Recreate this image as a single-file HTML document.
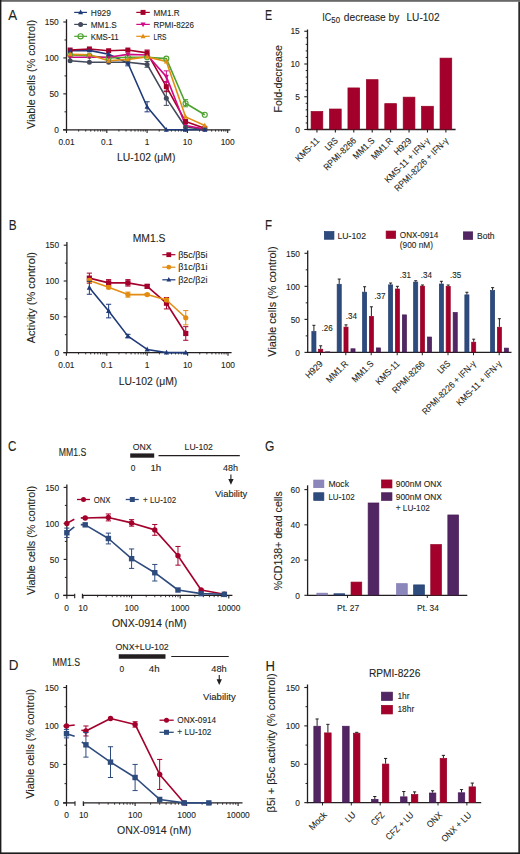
<!DOCTYPE html>
<html><head><meta charset="utf-8"><style>
html,body{margin:0;padding:0;background:#fff;width:520px;height:854px;overflow:hidden}
svg{display:block;font-family:"Liberation Sans", sans-serif}
text{stroke:#231f20;stroke-width:0.1px}
</style></head><body>
<svg width="520" height="854" viewBox="0 0 520 854" font-family='"Liberation Sans", sans-serif' fill="#231f20">
<rect x="0" y="0" width="520" height="854" fill="#fff"/>
<text x="8.30" y="19.60" font-size="14.21" textLength="8.87" lengthAdjust="spacingAndGlyphs" >A</text>
<line x1="66.50" y1="19.30" x2="66.50" y2="130.40" stroke="#231f20" stroke-width="1.3" />
<line x1="63.30" y1="129.80" x2="66.50" y2="129.80" stroke="#231f20" stroke-width="1.1" />
<text x="58.80" y="133.00" font-size="8.92" text-anchor="end" textLength="4.67" lengthAdjust="spacingAndGlyphs" >0</text>
<line x1="63.30" y1="93.87" x2="66.50" y2="93.87" stroke="#231f20" stroke-width="1.1" />
<text x="58.80" y="97.07" font-size="8.92" text-anchor="end" textLength="9.34" lengthAdjust="spacingAndGlyphs" >50</text>
<line x1="63.30" y1="57.93" x2="66.50" y2="57.93" stroke="#231f20" stroke-width="1.1" />
<text x="58.80" y="61.13" font-size="8.92" text-anchor="end" textLength="14.00" lengthAdjust="spacingAndGlyphs" >100</text>
<line x1="63.30" y1="22.00" x2="66.50" y2="22.00" stroke="#231f20" stroke-width="1.1" />
<text x="58.80" y="25.20" font-size="8.92" text-anchor="end" textLength="14.00" lengthAdjust="spacingAndGlyphs" >150</text>
<line x1="64.50" y1="111.83" x2="66.50" y2="111.83" stroke="#231f20" stroke-width="1.0" />
<line x1="64.50" y1="75.90" x2="66.50" y2="75.90" stroke="#231f20" stroke-width="1.0" />
<line x1="64.50" y1="39.97" x2="66.50" y2="39.97" stroke="#231f20" stroke-width="1.0" />
<line x1="63.00" y1="129.80" x2="230.40" y2="129.80" stroke="#231f20" stroke-width="1.3" />
<line x1="66.50" y1="129.80" x2="66.50" y2="133.00" stroke="#231f20" stroke-width="1.1" />
<line x1="78.63" y1="129.80" x2="78.63" y2="131.60" stroke="#231f20" stroke-width="0.9" />
<line x1="85.73" y1="129.80" x2="85.73" y2="131.60" stroke="#231f20" stroke-width="0.9" />
<line x1="90.76" y1="129.80" x2="90.76" y2="131.60" stroke="#231f20" stroke-width="0.9" />
<line x1="94.67" y1="129.80" x2="94.67" y2="131.60" stroke="#231f20" stroke-width="0.9" />
<line x1="97.86" y1="129.80" x2="97.86" y2="131.60" stroke="#231f20" stroke-width="0.9" />
<line x1="100.56" y1="129.80" x2="100.56" y2="131.60" stroke="#231f20" stroke-width="0.9" />
<line x1="102.89" y1="129.80" x2="102.89" y2="131.60" stroke="#231f20" stroke-width="0.9" />
<line x1="104.96" y1="129.80" x2="104.96" y2="131.60" stroke="#231f20" stroke-width="0.9" />
<line x1="106.80" y1="129.80" x2="106.80" y2="133.00" stroke="#231f20" stroke-width="1.1" />
<line x1="118.93" y1="129.80" x2="118.93" y2="131.60" stroke="#231f20" stroke-width="0.9" />
<line x1="126.03" y1="129.80" x2="126.03" y2="131.60" stroke="#231f20" stroke-width="0.9" />
<line x1="131.06" y1="129.80" x2="131.06" y2="131.60" stroke="#231f20" stroke-width="0.9" />
<line x1="134.97" y1="129.80" x2="134.97" y2="131.60" stroke="#231f20" stroke-width="0.9" />
<line x1="138.16" y1="129.80" x2="138.16" y2="131.60" stroke="#231f20" stroke-width="0.9" />
<line x1="140.86" y1="129.80" x2="140.86" y2="131.60" stroke="#231f20" stroke-width="0.9" />
<line x1="143.19" y1="129.80" x2="143.19" y2="131.60" stroke="#231f20" stroke-width="0.9" />
<line x1="145.26" y1="129.80" x2="145.26" y2="131.60" stroke="#231f20" stroke-width="0.9" />
<line x1="147.10" y1="129.80" x2="147.10" y2="133.00" stroke="#231f20" stroke-width="1.1" />
<line x1="159.23" y1="129.80" x2="159.23" y2="131.60" stroke="#231f20" stroke-width="0.9" />
<line x1="166.33" y1="129.80" x2="166.33" y2="131.60" stroke="#231f20" stroke-width="0.9" />
<line x1="171.36" y1="129.80" x2="171.36" y2="131.60" stroke="#231f20" stroke-width="0.9" />
<line x1="175.27" y1="129.80" x2="175.27" y2="131.60" stroke="#231f20" stroke-width="0.9" />
<line x1="178.46" y1="129.80" x2="178.46" y2="131.60" stroke="#231f20" stroke-width="0.9" />
<line x1="181.16" y1="129.80" x2="181.16" y2="131.60" stroke="#231f20" stroke-width="0.9" />
<line x1="183.49" y1="129.80" x2="183.49" y2="131.60" stroke="#231f20" stroke-width="0.9" />
<line x1="185.56" y1="129.80" x2="185.56" y2="131.60" stroke="#231f20" stroke-width="0.9" />
<line x1="187.40" y1="129.80" x2="187.40" y2="133.00" stroke="#231f20" stroke-width="1.1" />
<line x1="199.53" y1="129.80" x2="199.53" y2="131.60" stroke="#231f20" stroke-width="0.9" />
<line x1="206.63" y1="129.80" x2="206.63" y2="131.60" stroke="#231f20" stroke-width="0.9" />
<line x1="211.66" y1="129.80" x2="211.66" y2="131.60" stroke="#231f20" stroke-width="0.9" />
<line x1="215.57" y1="129.80" x2="215.57" y2="131.60" stroke="#231f20" stroke-width="0.9" />
<line x1="218.76" y1="129.80" x2="218.76" y2="131.60" stroke="#231f20" stroke-width="0.9" />
<line x1="221.46" y1="129.80" x2="221.46" y2="131.60" stroke="#231f20" stroke-width="0.9" />
<line x1="223.79" y1="129.80" x2="223.79" y2="131.60" stroke="#231f20" stroke-width="0.9" />
<line x1="225.86" y1="129.80" x2="225.86" y2="131.60" stroke="#231f20" stroke-width="0.9" />
<line x1="227.70" y1="129.80" x2="227.70" y2="133.00" stroke="#231f20" stroke-width="1.1" />
<text x="66.50" y="145.20" font-size="8.92" text-anchor="middle" textLength="16.22" lengthAdjust="spacingAndGlyphs" >0.01</text>
<text x="106.80" y="145.20" font-size="8.92" text-anchor="middle" textLength="11.55" lengthAdjust="spacingAndGlyphs" >0.1</text>
<text x="147.10" y="145.20" font-size="8.92" text-anchor="middle" textLength="4.67" lengthAdjust="spacingAndGlyphs" >1</text>
<text x="187.40" y="145.20" font-size="8.92" text-anchor="middle" textLength="9.34" lengthAdjust="spacingAndGlyphs" >10</text>
<text x="227.70" y="145.20" font-size="8.92" text-anchor="middle" textLength="14.00" lengthAdjust="spacingAndGlyphs" >100</text>
<text x="35.20" y="74.50" font-size="11.37" text-anchor="middle" textLength="109.00" lengthAdjust="spacingAndGlyphs" transform="rotate(-90 35.20 74.50)" >Viable cells (% control)</text>
<text x="146.20" y="160.60" font-size="11.37" text-anchor="middle" textLength="58.50" lengthAdjust="spacingAndGlyphs" >LU-102 (μM)</text>
<line x1="127.85" y1="60.09" x2="127.85" y2="65.84" stroke="#1f3a78" stroke-width="1.0" />
<line x1="125.25" y1="60.09" x2="130.45" y2="60.09" stroke="#1f3a78" stroke-width="1.0" />
<line x1="125.25" y1="65.84" x2="130.45" y2="65.84" stroke="#1f3a78" stroke-width="1.0" />
<line x1="147.10" y1="101.77" x2="147.10" y2="111.83" stroke="#1f3a78" stroke-width="1.0" />
<line x1="144.50" y1="101.77" x2="149.70" y2="101.77" stroke="#1f3a78" stroke-width="1.0" />
<line x1="144.50" y1="111.83" x2="149.70" y2="111.83" stroke="#1f3a78" stroke-width="1.0" />
<polyline points="70.12,50.75 89.40,50.39 108.63,54.34 127.85,62.96 147.10,106.80 166.33,129.80 185.56,129.80 204.78,129.80" fill="none" stroke="#1f3a78" stroke-width="1.6" stroke-linejoin="round"/>
<line x1="147.10" y1="61.53" x2="147.10" y2="67.28" stroke="#434a5c" stroke-width="1.0" />
<line x1="144.50" y1="61.53" x2="149.70" y2="61.53" stroke="#434a5c" stroke-width="1.0" />
<line x1="144.50" y1="67.28" x2="149.70" y2="67.28" stroke="#434a5c" stroke-width="1.0" />
<line x1="166.33" y1="90.99" x2="166.33" y2="105.37" stroke="#434a5c" stroke-width="1.0" />
<line x1="163.73" y1="90.99" x2="168.93" y2="90.99" stroke="#434a5c" stroke-width="1.0" />
<line x1="163.73" y1="105.37" x2="168.93" y2="105.37" stroke="#434a5c" stroke-width="1.0" />
<polyline points="70.12,60.81 89.40,62.25 108.63,62.25 127.85,62.25 147.10,64.40 166.33,98.18 185.56,127.28 204.78,129.08" fill="none" stroke="#434a5c" stroke-width="1.6" stroke-linejoin="round"/>
<line x1="185.56" y1="99.62" x2="185.56" y2="106.80" stroke="#4ea330" stroke-width="1.0" />
<line x1="182.96" y1="99.62" x2="188.16" y2="99.62" stroke="#4ea330" stroke-width="1.0" />
<line x1="182.96" y1="106.80" x2="188.16" y2="106.80" stroke="#4ea330" stroke-width="1.0" />
<polyline points="70.12,55.06 89.40,55.78 108.63,57.93 127.85,57.21 147.10,57.21 166.33,58.65 185.56,103.21 204.78,114.71" fill="none" stroke="#4ea330" stroke-width="1.6" stroke-linejoin="round"/>
<line x1="147.10" y1="50.03" x2="147.10" y2="55.78" stroke="#a3002b" stroke-width="1.0" />
<line x1="144.50" y1="50.03" x2="149.70" y2="50.03" stroke="#a3002b" stroke-width="1.0" />
<line x1="144.50" y1="55.78" x2="149.70" y2="55.78" stroke="#a3002b" stroke-width="1.0" />
<line x1="166.33" y1="81.65" x2="166.33" y2="91.71" stroke="#a3002b" stroke-width="1.0" />
<line x1="163.73" y1="81.65" x2="168.93" y2="81.65" stroke="#a3002b" stroke-width="1.0" />
<line x1="163.73" y1="91.71" x2="168.93" y2="91.71" stroke="#a3002b" stroke-width="1.0" />
<polyline points="70.12,50.03 89.40,48.95 108.63,50.75 127.85,50.03 147.10,52.90 166.33,86.68 185.56,121.54 204.78,128.36" fill="none" stroke="#a3002b" stroke-width="1.6" stroke-linejoin="round"/>
<line x1="166.33" y1="70.87" x2="166.33" y2="82.37" stroke="#cf0a86" stroke-width="1.0" />
<line x1="163.73" y1="70.87" x2="168.93" y2="70.87" stroke="#cf0a86" stroke-width="1.0" />
<line x1="163.73" y1="82.37" x2="168.93" y2="82.37" stroke="#cf0a86" stroke-width="1.0" />
<polyline points="70.12,57.21 89.40,57.21 108.63,57.21 127.85,54.34 147.10,55.06 166.33,76.62 185.56,125.49 204.78,129.08" fill="none" stroke="#cf0a86" stroke-width="1.6" stroke-linejoin="round"/>
<polyline points="70.12,54.34 89.40,54.70 108.63,60.81 127.85,59.37 147.10,56.86 166.33,61.53 185.56,116.86 204.78,125.49" fill="none" stroke="#e38c12" stroke-width="1.6" stroke-linejoin="round"/>
<circle cx="70.12" cy="55.06" r="2.50" fill="none" stroke="#4ea330" stroke-width="1.15"/>
<circle cx="89.40" cy="55.78" r="2.50" fill="none" stroke="#4ea330" stroke-width="1.15"/>
<circle cx="108.63" cy="57.93" r="2.50" fill="none" stroke="#4ea330" stroke-width="1.15"/>
<circle cx="127.85" cy="57.21" r="2.50" fill="none" stroke="#4ea330" stroke-width="1.15"/>
<circle cx="147.10" cy="57.21" r="2.50" fill="none" stroke="#4ea330" stroke-width="1.15"/>
<circle cx="166.33" cy="58.65" r="2.50" fill="none" stroke="#4ea330" stroke-width="1.15"/>
<circle cx="185.56" cy="103.21" r="2.50" fill="none" stroke="#4ea330" stroke-width="1.15"/>
<circle cx="204.78" cy="114.71" r="2.50" fill="none" stroke="#4ea330" stroke-width="1.15"/>
<polygon points="70.12,60.06 67.62,55.31 72.62,55.31" fill="#cf0a86"/>
<polygon points="89.40,60.06 86.90,55.31 91.90,55.31" fill="#cf0a86"/>
<polygon points="108.63,60.06 106.13,55.31 111.13,55.31" fill="#cf0a86"/>
<polygon points="127.85,57.19 125.35,52.44 130.35,52.44" fill="#cf0a86"/>
<polygon points="147.10,57.91 144.60,53.16 149.60,53.16" fill="#cf0a86"/>
<polygon points="166.33,79.47 163.83,74.72 168.83,74.72" fill="#cf0a86"/>
<polygon points="185.56,128.34 183.06,123.59 188.06,123.59" fill="#cf0a86"/>
<polygon points="204.78,131.93 202.28,127.18 207.28,127.18" fill="#cf0a86"/>
<rect x="67.62" y="47.53" width="5.00" height="5.00" fill="#a3002b"/>
<rect x="86.90" y="46.45" width="5.00" height="5.00" fill="#a3002b"/>
<rect x="106.13" y="48.25" width="5.00" height="5.00" fill="#a3002b"/>
<rect x="125.35" y="47.53" width="5.00" height="5.00" fill="#a3002b"/>
<rect x="144.60" y="50.40" width="5.00" height="5.00" fill="#a3002b"/>
<rect x="163.83" y="84.18" width="5.00" height="5.00" fill="#a3002b"/>
<rect x="183.06" y="119.04" width="5.00" height="5.00" fill="#a3002b"/>
<rect x="202.28" y="125.86" width="5.00" height="5.00" fill="#a3002b"/>
<circle cx="70.12" cy="60.81" r="2.50" fill="#434a5c"/>
<circle cx="89.40" cy="62.25" r="2.50" fill="#434a5c"/>
<circle cx="108.63" cy="62.25" r="2.50" fill="#434a5c"/>
<circle cx="127.85" cy="62.25" r="2.50" fill="#434a5c"/>
<circle cx="147.10" cy="64.40" r="2.50" fill="#434a5c"/>
<circle cx="166.33" cy="98.18" r="2.50" fill="#434a5c"/>
<circle cx="185.56" cy="127.28" r="2.50" fill="#434a5c"/>
<circle cx="204.78" cy="129.08" r="2.50" fill="#434a5c"/>
<polygon points="70.12,47.90 67.62,52.65 72.62,52.65" fill="#1f3a78"/>
<polygon points="89.40,47.54 86.90,52.29 91.90,52.29" fill="#1f3a78"/>
<polygon points="108.63,51.49 106.13,56.24 111.13,56.24" fill="#1f3a78"/>
<polygon points="127.85,60.11 125.35,64.86 130.35,64.86" fill="#1f3a78"/>
<polygon points="147.10,103.95 144.60,108.70 149.60,108.70" fill="#1f3a78"/>
<polygon points="166.33,126.95 163.83,131.70 168.83,131.70" fill="#1f3a78"/>
<polygon points="185.56,126.95 183.06,131.70 188.06,131.70" fill="#1f3a78"/>
<polygon points="204.78,126.95 202.28,131.70 207.28,131.70" fill="#1f3a78"/>
<polygon points="70.12,51.49 67.62,56.24 72.62,56.24" fill="#e38c12"/>
<polygon points="89.40,51.85 86.90,56.60 91.90,56.60" fill="#e38c12"/>
<polygon points="108.63,57.96 106.13,62.71 111.13,62.71" fill="#e38c12"/>
<polygon points="127.85,56.52 125.35,61.27 130.35,61.27" fill="#e38c12"/>
<polygon points="147.10,54.01 144.60,58.76 149.60,58.76" fill="#e38c12"/>
<polygon points="166.33,58.68 163.83,63.43 168.83,63.43" fill="#e38c12"/>
<polygon points="185.56,114.01 183.06,118.76 188.06,118.76" fill="#e38c12"/>
<polygon points="204.78,122.64 202.28,127.39 207.28,127.39" fill="#e38c12"/>
<line x1="74.20" y1="12.40" x2="87.00" y2="12.40" stroke="#1f3a78" stroke-width="1.2" />
<polygon points="80.60,9.55 78.10,14.30 83.10,14.30" fill="#1f3a78"/>
<text x="90.80" y="15.60" font-size="8.92" textLength="20.20" lengthAdjust="spacingAndGlyphs" >H929</text>
<line x1="74.20" y1="24.40" x2="87.00" y2="24.40" stroke="#434a5c" stroke-width="1.2" />
<circle cx="80.60" cy="24.40" r="2.50" fill="#434a5c"/>
<text x="90.80" y="27.60" font-size="8.92" textLength="25.90" lengthAdjust="spacingAndGlyphs" >MM1.S</text>
<line x1="74.20" y1="36.30" x2="87.00" y2="36.30" stroke="#4ea330" stroke-width="1.2" />
<circle cx="80.60" cy="36.30" r="2.60" fill="none" stroke="#4ea330" stroke-width="1.15"/>
<text x="90.80" y="39.50" font-size="8.92" textLength="27.90" lengthAdjust="spacingAndGlyphs" >KMS-11</text>
<line x1="136.30" y1="12.40" x2="149.80" y2="12.40" stroke="#a3002b" stroke-width="1.2" />
<rect x="140.55" y="9.90" width="5.00" height="5.00" fill="#a3002b"/>
<text x="153.50" y="15.60" font-size="8.92" textLength="26.10" lengthAdjust="spacingAndGlyphs" >MM1.R</text>
<line x1="136.30" y1="24.40" x2="149.80" y2="24.40" stroke="#cf0a86" stroke-width="1.2" />
<polygon points="143.05,27.25 140.55,22.50 145.55,22.50" fill="#cf0a86"/>
<text x="153.50" y="27.60" font-size="8.92" textLength="40.50" lengthAdjust="spacingAndGlyphs" >RPMI-8226</text>
<line x1="136.30" y1="36.30" x2="149.80" y2="36.30" stroke="#e38c12" stroke-width="1.2" />
<polygon points="143.05,33.45 140.55,38.20 145.55,38.20" fill="#e38c12"/>
<text x="153.50" y="39.50" font-size="8.92" textLength="13.00" lengthAdjust="spacingAndGlyphs" >LRS</text>
<text x="8.70" y="229.80" font-size="14.21" textLength="7.86" lengthAdjust="spacingAndGlyphs" >B</text>
<line x1="66.90" y1="242.00" x2="66.90" y2="353.20" stroke="#231f20" stroke-width="1.3" />
<line x1="63.70" y1="352.60" x2="66.90" y2="352.60" stroke="#231f20" stroke-width="1.1" />
<text x="59.20" y="355.80" font-size="8.92" text-anchor="end" textLength="4.67" lengthAdjust="spacingAndGlyphs" >0</text>
<line x1="63.70" y1="316.80" x2="66.90" y2="316.80" stroke="#231f20" stroke-width="1.1" />
<text x="59.20" y="320.00" font-size="8.92" text-anchor="end" textLength="9.34" lengthAdjust="spacingAndGlyphs" >50</text>
<line x1="63.70" y1="281.00" x2="66.90" y2="281.00" stroke="#231f20" stroke-width="1.1" />
<text x="59.20" y="284.20" font-size="8.92" text-anchor="end" textLength="14.00" lengthAdjust="spacingAndGlyphs" >100</text>
<line x1="63.70" y1="245.20" x2="66.90" y2="245.20" stroke="#231f20" stroke-width="1.1" />
<text x="59.20" y="248.40" font-size="8.92" text-anchor="end" textLength="14.00" lengthAdjust="spacingAndGlyphs" >150</text>
<line x1="64.90" y1="334.70" x2="66.90" y2="334.70" stroke="#231f20" stroke-width="1.0" />
<line x1="64.90" y1="298.90" x2="66.90" y2="298.90" stroke="#231f20" stroke-width="1.0" />
<line x1="64.90" y1="263.10" x2="66.90" y2="263.10" stroke="#231f20" stroke-width="1.0" />
<line x1="63.30" y1="352.60" x2="231.60" y2="352.60" stroke="#231f20" stroke-width="1.3" />
<line x1="66.40" y1="352.60" x2="66.40" y2="355.80" stroke="#231f20" stroke-width="1.1" />
<line x1="78.56" y1="352.60" x2="78.56" y2="354.40" stroke="#231f20" stroke-width="0.9" />
<line x1="85.68" y1="352.60" x2="85.68" y2="354.40" stroke="#231f20" stroke-width="0.9" />
<line x1="90.72" y1="352.60" x2="90.72" y2="354.40" stroke="#231f20" stroke-width="0.9" />
<line x1="94.64" y1="352.60" x2="94.64" y2="354.40" stroke="#231f20" stroke-width="0.9" />
<line x1="97.84" y1="352.60" x2="97.84" y2="354.40" stroke="#231f20" stroke-width="0.9" />
<line x1="100.54" y1="352.60" x2="100.54" y2="354.40" stroke="#231f20" stroke-width="0.9" />
<line x1="102.88" y1="352.60" x2="102.88" y2="354.40" stroke="#231f20" stroke-width="0.9" />
<line x1="104.95" y1="352.60" x2="104.95" y2="354.40" stroke="#231f20" stroke-width="0.9" />
<line x1="106.80" y1="352.60" x2="106.80" y2="355.80" stroke="#231f20" stroke-width="1.1" />
<line x1="118.96" y1="352.60" x2="118.96" y2="354.40" stroke="#231f20" stroke-width="0.9" />
<line x1="126.08" y1="352.60" x2="126.08" y2="354.40" stroke="#231f20" stroke-width="0.9" />
<line x1="131.12" y1="352.60" x2="131.12" y2="354.40" stroke="#231f20" stroke-width="0.9" />
<line x1="135.04" y1="352.60" x2="135.04" y2="354.40" stroke="#231f20" stroke-width="0.9" />
<line x1="138.24" y1="352.60" x2="138.24" y2="354.40" stroke="#231f20" stroke-width="0.9" />
<line x1="140.94" y1="352.60" x2="140.94" y2="354.40" stroke="#231f20" stroke-width="0.9" />
<line x1="143.28" y1="352.60" x2="143.28" y2="354.40" stroke="#231f20" stroke-width="0.9" />
<line x1="145.35" y1="352.60" x2="145.35" y2="354.40" stroke="#231f20" stroke-width="0.9" />
<line x1="147.20" y1="352.60" x2="147.20" y2="355.80" stroke="#231f20" stroke-width="1.1" />
<line x1="159.36" y1="352.60" x2="159.36" y2="354.40" stroke="#231f20" stroke-width="0.9" />
<line x1="166.48" y1="352.60" x2="166.48" y2="354.40" stroke="#231f20" stroke-width="0.9" />
<line x1="171.52" y1="352.60" x2="171.52" y2="354.40" stroke="#231f20" stroke-width="0.9" />
<line x1="175.44" y1="352.60" x2="175.44" y2="354.40" stroke="#231f20" stroke-width="0.9" />
<line x1="178.64" y1="352.60" x2="178.64" y2="354.40" stroke="#231f20" stroke-width="0.9" />
<line x1="181.34" y1="352.60" x2="181.34" y2="354.40" stroke="#231f20" stroke-width="0.9" />
<line x1="183.68" y1="352.60" x2="183.68" y2="354.40" stroke="#231f20" stroke-width="0.9" />
<line x1="185.75" y1="352.60" x2="185.75" y2="354.40" stroke="#231f20" stroke-width="0.9" />
<line x1="187.60" y1="352.60" x2="187.60" y2="355.80" stroke="#231f20" stroke-width="1.1" />
<line x1="199.76" y1="352.60" x2="199.76" y2="354.40" stroke="#231f20" stroke-width="0.9" />
<line x1="206.88" y1="352.60" x2="206.88" y2="354.40" stroke="#231f20" stroke-width="0.9" />
<line x1="211.92" y1="352.60" x2="211.92" y2="354.40" stroke="#231f20" stroke-width="0.9" />
<line x1="215.84" y1="352.60" x2="215.84" y2="354.40" stroke="#231f20" stroke-width="0.9" />
<line x1="219.04" y1="352.60" x2="219.04" y2="354.40" stroke="#231f20" stroke-width="0.9" />
<line x1="221.74" y1="352.60" x2="221.74" y2="354.40" stroke="#231f20" stroke-width="0.9" />
<line x1="224.08" y1="352.60" x2="224.08" y2="354.40" stroke="#231f20" stroke-width="0.9" />
<line x1="226.15" y1="352.60" x2="226.15" y2="354.40" stroke="#231f20" stroke-width="0.9" />
<line x1="228.00" y1="352.60" x2="228.00" y2="355.80" stroke="#231f20" stroke-width="1.1" />
<text x="66.40" y="368.40" font-size="8.92" text-anchor="middle" textLength="16.22" lengthAdjust="spacingAndGlyphs" >0.01</text>
<text x="106.80" y="368.40" font-size="8.92" text-anchor="middle" textLength="11.55" lengthAdjust="spacingAndGlyphs" >0.1</text>
<text x="147.20" y="368.40" font-size="8.92" text-anchor="middle" textLength="4.67" lengthAdjust="spacingAndGlyphs" >1</text>
<text x="187.60" y="368.40" font-size="8.92" text-anchor="middle" textLength="9.34" lengthAdjust="spacingAndGlyphs" >10</text>
<text x="228.00" y="368.40" font-size="8.92" text-anchor="middle" textLength="14.00" lengthAdjust="spacingAndGlyphs" >100</text>
<text x="34.80" y="297.60" font-size="11.37" text-anchor="middle" textLength="91.30" lengthAdjust="spacingAndGlyphs" transform="rotate(-90 34.80 297.60)" >Activity (% control)</text>
<text x="148.00" y="384.60" font-size="11.37" text-anchor="middle" textLength="58.50" lengthAdjust="spacingAndGlyphs" >LU-102 (μM)</text>
<text x="132.70" y="241.60" font-size="11.37" textLength="32.80" lengthAdjust="spacingAndGlyphs" >MM1.S</text>
<line x1="89.36" y1="273.12" x2="89.36" y2="283.15" stroke="#a3002b" stroke-width="1.0" />
<line x1="86.76" y1="273.12" x2="91.96" y2="273.12" stroke="#a3002b" stroke-width="1.0" />
<line x1="86.76" y1="283.15" x2="91.96" y2="283.15" stroke="#a3002b" stroke-width="1.0" />
<line x1="108.63" y1="279.64" x2="108.63" y2="286.08" stroke="#a3002b" stroke-width="1.0" />
<line x1="106.03" y1="279.64" x2="111.23" y2="279.64" stroke="#a3002b" stroke-width="1.0" />
<line x1="106.03" y1="286.08" x2="111.23" y2="286.08" stroke="#a3002b" stroke-width="1.0" />
<line x1="127.91" y1="279.64" x2="127.91" y2="286.08" stroke="#a3002b" stroke-width="1.0" />
<line x1="125.31" y1="279.64" x2="130.51" y2="279.64" stroke="#a3002b" stroke-width="1.0" />
<line x1="125.31" y1="286.08" x2="130.51" y2="286.08" stroke="#a3002b" stroke-width="1.0" />
<line x1="147.20" y1="284.51" x2="147.20" y2="288.09" stroke="#a3002b" stroke-width="1.0" />
<line x1="144.60" y1="284.51" x2="149.80" y2="284.51" stroke="#a3002b" stroke-width="1.0" />
<line x1="144.60" y1="288.09" x2="149.80" y2="288.09" stroke="#a3002b" stroke-width="1.0" />
<line x1="166.48" y1="297.47" x2="166.48" y2="308.92" stroke="#a3002b" stroke-width="1.0" />
<line x1="163.88" y1="297.47" x2="169.08" y2="297.47" stroke="#a3002b" stroke-width="1.0" />
<line x1="163.88" y1="308.92" x2="169.08" y2="308.92" stroke="#a3002b" stroke-width="1.0" />
<line x1="185.75" y1="326.68" x2="185.75" y2="340.28" stroke="#a3002b" stroke-width="1.0" />
<line x1="183.15" y1="326.68" x2="188.35" y2="326.68" stroke="#a3002b" stroke-width="1.0" />
<line x1="183.15" y1="340.28" x2="188.35" y2="340.28" stroke="#a3002b" stroke-width="1.0" />
<polyline points="89.36,278.14 108.63,282.86 127.91,282.86 147.20,286.30 166.48,303.20 185.75,333.48" fill="none" stroke="#a3002b" stroke-width="1.6" stroke-linejoin="round"/>
<rect x="86.76" y="275.54" width="5.20" height="5.20" fill="#a3002b"/>
<rect x="106.03" y="280.26" width="5.20" height="5.20" fill="#a3002b"/>
<rect x="125.31" y="280.26" width="5.20" height="5.20" fill="#a3002b"/>
<rect x="144.60" y="283.70" width="5.20" height="5.20" fill="#a3002b"/>
<rect x="163.88" y="300.60" width="5.20" height="5.20" fill="#a3002b"/>
<rect x="183.15" y="330.88" width="5.20" height="5.20" fill="#a3002b"/>
<line x1="89.36" y1="279.00" x2="89.36" y2="281.86" stroke="#e38c12" stroke-width="1.0" />
<line x1="86.76" y1="279.00" x2="91.96" y2="279.00" stroke="#e38c12" stroke-width="1.0" />
<line x1="86.76" y1="281.86" x2="91.96" y2="281.86" stroke="#e38c12" stroke-width="1.0" />
<line x1="108.63" y1="285.87" x2="108.63" y2="288.73" stroke="#e38c12" stroke-width="1.0" />
<line x1="106.03" y1="285.87" x2="111.23" y2="285.87" stroke="#e38c12" stroke-width="1.0" />
<line x1="106.03" y1="288.73" x2="111.23" y2="288.73" stroke="#e38c12" stroke-width="1.0" />
<line x1="127.91" y1="292.10" x2="127.91" y2="297.11" stroke="#e38c12" stroke-width="1.0" />
<line x1="125.31" y1="292.10" x2="130.51" y2="292.10" stroke="#e38c12" stroke-width="1.0" />
<line x1="125.31" y1="297.11" x2="130.51" y2="297.11" stroke="#e38c12" stroke-width="1.0" />
<line x1="147.20" y1="293.53" x2="147.20" y2="295.68" stroke="#e38c12" stroke-width="1.0" />
<line x1="144.60" y1="293.53" x2="149.80" y2="293.53" stroke="#e38c12" stroke-width="1.0" />
<line x1="144.60" y1="295.68" x2="149.80" y2="295.68" stroke="#e38c12" stroke-width="1.0" />
<line x1="166.48" y1="298.90" x2="166.48" y2="301.05" stroke="#e38c12" stroke-width="1.0" />
<line x1="163.88" y1="298.90" x2="169.08" y2="298.90" stroke="#e38c12" stroke-width="1.0" />
<line x1="163.88" y1="301.05" x2="169.08" y2="301.05" stroke="#e38c12" stroke-width="1.0" />
<line x1="185.75" y1="310.57" x2="185.75" y2="324.89" stroke="#e38c12" stroke-width="1.0" />
<line x1="183.15" y1="310.57" x2="188.35" y2="310.57" stroke="#e38c12" stroke-width="1.0" />
<line x1="183.15" y1="324.89" x2="188.35" y2="324.89" stroke="#e38c12" stroke-width="1.0" />
<polyline points="89.36,280.43 108.63,287.30 127.91,294.60 147.20,294.60 166.48,299.97 185.75,317.73" fill="none" stroke="#e38c12" stroke-width="1.6" stroke-linejoin="round"/>
<circle cx="89.36" cy="280.43" r="2.60" fill="#e38c12"/>
<circle cx="108.63" cy="287.30" r="2.60" fill="#e38c12"/>
<circle cx="127.91" cy="294.60" r="2.60" fill="#e38c12"/>
<circle cx="147.20" cy="294.60" r="2.60" fill="#e38c12"/>
<circle cx="166.48" cy="299.97" r="2.60" fill="#e38c12"/>
<circle cx="185.75" cy="317.73" r="2.60" fill="#e38c12"/>
<line x1="89.36" y1="281.36" x2="89.36" y2="294.25" stroke="#1f3a78" stroke-width="1.0" />
<line x1="86.76" y1="281.36" x2="91.96" y2="281.36" stroke="#1f3a78" stroke-width="1.0" />
<line x1="86.76" y1="294.25" x2="91.96" y2="294.25" stroke="#1f3a78" stroke-width="1.0" />
<line x1="108.63" y1="304.27" x2="108.63" y2="317.87" stroke="#1f3a78" stroke-width="1.0" />
<line x1="106.03" y1="304.27" x2="111.23" y2="304.27" stroke="#1f3a78" stroke-width="1.0" />
<line x1="106.03" y1="317.87" x2="111.23" y2="317.87" stroke="#1f3a78" stroke-width="1.0" />
<line x1="127.91" y1="334.34" x2="127.91" y2="337.92" stroke="#1f3a78" stroke-width="1.0" />
<line x1="125.31" y1="334.34" x2="130.51" y2="334.34" stroke="#1f3a78" stroke-width="1.0" />
<line x1="125.31" y1="337.92" x2="130.51" y2="337.92" stroke="#1f3a78" stroke-width="1.0" />
<polyline points="89.36,287.80 108.63,311.07 127.91,336.13 147.20,349.45 166.48,352.60 185.75,352.60" fill="none" stroke="#1f3a78" stroke-width="1.6" stroke-linejoin="round"/>
<polygon points="89.36,284.84 86.76,289.78 91.96,289.78" fill="#1f3a78"/>
<polygon points="108.63,308.11 106.03,313.05 111.23,313.05" fill="#1f3a78"/>
<polygon points="127.91,333.17 125.31,338.11 130.51,338.11" fill="#1f3a78"/>
<polygon points="147.20,346.49 144.60,351.43 149.80,351.43" fill="#1f3a78"/>
<polygon points="166.48,349.64 163.88,354.58 169.08,354.58" fill="#1f3a78"/>
<polygon points="185.75,349.64 183.15,354.58 188.35,354.58" fill="#1f3a78"/>
<line x1="162.30" y1="254.70" x2="175.40" y2="254.70" stroke="#a3002b" stroke-width="1.2" />
<rect x="166.40" y="252.30" width="4.80" height="4.80" fill="#a3002b"/>
<text x="178.20" y="257.90" font-size="8.92" textLength="29.30" lengthAdjust="spacingAndGlyphs" >β5c/β5i</text>
<line x1="162.30" y1="267.20" x2="175.40" y2="267.20" stroke="#e38c12" stroke-width="1.2" />
<circle cx="168.80" cy="267.20" r="2.40" fill="#e38c12"/>
<text x="178.20" y="270.40" font-size="8.92" textLength="29.30" lengthAdjust="spacingAndGlyphs" >β1c/β1i</text>
<line x1="162.30" y1="279.80" x2="175.40" y2="279.80" stroke="#1f3a78" stroke-width="1.2" />
<polygon points="168.80,277.06 166.40,281.62 171.20,281.62" fill="#1f3a78"/>
<text x="178.20" y="283.00" font-size="8.92" textLength="29.30" lengthAdjust="spacingAndGlyphs" >β2c/β2i</text>
<text x="8.00" y="450.75" font-size="14.21" textLength="8.41" lengthAdjust="spacingAndGlyphs" >C</text>
<text x="58.75" y="455.75" font-size="10.0" textLength="27.50" lengthAdjust="spacingAndGlyphs" >MM1.S</text>
<rect x="130.20" y="453.40" width="24.00" height="4.30" fill="#231f20"/>
<line x1="158.50" y1="455.60" x2="239.80" y2="455.60" stroke="#231f20" stroke-width="1.1" />
<text x="132.70" y="450.20" font-size="8.92" textLength="18.80" lengthAdjust="spacingAndGlyphs" >ONX</text>
<text x="184.60" y="450.20" font-size="8.92" textLength="28.30" lengthAdjust="spacingAndGlyphs" >LU-102</text>
<text x="130.80" y="471.00" font-size="8.92" textLength="4.67" lengthAdjust="spacingAndGlyphs" >0</text>
<text x="150.40" y="471.00" font-size="8.92" textLength="10.80" lengthAdjust="spacingAndGlyphs" >1h</text>
<text x="223.00" y="470.80" font-size="8.92" textLength="15.00" lengthAdjust="spacingAndGlyphs" >48h</text>
<line x1="230.90" y1="474.40" x2="230.90" y2="480.50" stroke="#231f20" stroke-width="1.1" />
<polygon points="228.3,479.0 233.6,479.0 230.95,484.8" fill="#231f20"/>
<text x="215.00" y="497.10" font-size="8.92" textLength="32.30" lengthAdjust="spacingAndGlyphs" >Viability</text>
<line x1="66.85" y1="484.50" x2="66.85" y2="596.00" stroke="#231f20" stroke-width="1.3" />
<line x1="63.65" y1="595.40" x2="66.85" y2="595.40" stroke="#231f20" stroke-width="1.1" />
<text x="59.15" y="598.60" font-size="8.92" text-anchor="end" textLength="4.67" lengthAdjust="spacingAndGlyphs" >0</text>
<line x1="63.65" y1="559.40" x2="66.85" y2="559.40" stroke="#231f20" stroke-width="1.1" />
<text x="59.15" y="562.60" font-size="8.92" text-anchor="end" textLength="9.34" lengthAdjust="spacingAndGlyphs" >50</text>
<line x1="63.65" y1="523.40" x2="66.85" y2="523.40" stroke="#231f20" stroke-width="1.1" />
<text x="59.15" y="526.60" font-size="8.92" text-anchor="end" textLength="14.00" lengthAdjust="spacingAndGlyphs" >100</text>
<line x1="63.65" y1="487.40" x2="66.85" y2="487.40" stroke="#231f20" stroke-width="1.1" />
<text x="59.15" y="490.60" font-size="8.92" text-anchor="end" textLength="14.00" lengthAdjust="spacingAndGlyphs" >150</text>
<line x1="64.85" y1="577.40" x2="66.85" y2="577.40" stroke="#231f20" stroke-width="1.0" />
<line x1="64.85" y1="541.40" x2="66.85" y2="541.40" stroke="#231f20" stroke-width="1.0" />
<line x1="64.85" y1="505.40" x2="66.85" y2="505.40" stroke="#231f20" stroke-width="1.0" />
<line x1="63.20" y1="595.40" x2="74.70" y2="595.40" stroke="#231f20" stroke-width="1.3" />
<line x1="74.70" y1="593.80" x2="74.70" y2="598.30" stroke="#231f20" stroke-width="1.1" />
<line x1="66.85" y1="595.40" x2="66.85" y2="598.70" stroke="#231f20" stroke-width="1.1" />
<line x1="82.40" y1="593.80" x2="82.40" y2="598.30" stroke="#231f20" stroke-width="1.1" />
<line x1="82.40" y1="595.40" x2="232.40" y2="595.40" stroke="#231f20" stroke-width="1.3" />
<line x1="83.00" y1="595.40" x2="83.00" y2="598.60" stroke="#231f20" stroke-width="1.1" />
<line x1="97.63" y1="595.40" x2="97.63" y2="597.20" stroke="#231f20" stroke-width="0.9" />
<line x1="106.19" y1="595.40" x2="106.19" y2="597.20" stroke="#231f20" stroke-width="0.9" />
<line x1="112.26" y1="595.40" x2="112.26" y2="597.20" stroke="#231f20" stroke-width="0.9" />
<line x1="116.97" y1="595.40" x2="116.97" y2="597.20" stroke="#231f20" stroke-width="0.9" />
<line x1="120.82" y1="595.40" x2="120.82" y2="597.20" stroke="#231f20" stroke-width="0.9" />
<line x1="124.07" y1="595.40" x2="124.07" y2="597.20" stroke="#231f20" stroke-width="0.9" />
<line x1="126.89" y1="595.40" x2="126.89" y2="597.20" stroke="#231f20" stroke-width="0.9" />
<line x1="129.38" y1="595.40" x2="129.38" y2="597.20" stroke="#231f20" stroke-width="0.9" />
<line x1="131.60" y1="595.40" x2="131.60" y2="598.60" stroke="#231f20" stroke-width="1.1" />
<line x1="146.23" y1="595.40" x2="146.23" y2="597.20" stroke="#231f20" stroke-width="0.9" />
<line x1="154.79" y1="595.40" x2="154.79" y2="597.20" stroke="#231f20" stroke-width="0.9" />
<line x1="160.86" y1="595.40" x2="160.86" y2="597.20" stroke="#231f20" stroke-width="0.9" />
<line x1="165.57" y1="595.40" x2="165.57" y2="597.20" stroke="#231f20" stroke-width="0.9" />
<line x1="169.42" y1="595.40" x2="169.42" y2="597.20" stroke="#231f20" stroke-width="0.9" />
<line x1="172.67" y1="595.40" x2="172.67" y2="597.20" stroke="#231f20" stroke-width="0.9" />
<line x1="175.49" y1="595.40" x2="175.49" y2="597.20" stroke="#231f20" stroke-width="0.9" />
<line x1="177.98" y1="595.40" x2="177.98" y2="597.20" stroke="#231f20" stroke-width="0.9" />
<line x1="180.20" y1="595.40" x2="180.20" y2="598.60" stroke="#231f20" stroke-width="1.1" />
<line x1="194.83" y1="595.40" x2="194.83" y2="597.20" stroke="#231f20" stroke-width="0.9" />
<line x1="203.39" y1="595.40" x2="203.39" y2="597.20" stroke="#231f20" stroke-width="0.9" />
<line x1="209.46" y1="595.40" x2="209.46" y2="597.20" stroke="#231f20" stroke-width="0.9" />
<line x1="214.17" y1="595.40" x2="214.17" y2="597.20" stroke="#231f20" stroke-width="0.9" />
<line x1="218.02" y1="595.40" x2="218.02" y2="597.20" stroke="#231f20" stroke-width="0.9" />
<line x1="221.27" y1="595.40" x2="221.27" y2="597.20" stroke="#231f20" stroke-width="0.9" />
<line x1="224.09" y1="595.40" x2="224.09" y2="597.20" stroke="#231f20" stroke-width="0.9" />
<line x1="226.58" y1="595.40" x2="226.58" y2="597.20" stroke="#231f20" stroke-width="0.9" />
<line x1="228.80" y1="595.40" x2="228.80" y2="598.60" stroke="#231f20" stroke-width="1.1" />
<text x="83.00" y="611.00" font-size="8.92" text-anchor="middle" textLength="9.34" lengthAdjust="spacingAndGlyphs" >10</text>
<text x="131.60" y="611.00" font-size="8.92" text-anchor="middle" textLength="14.00" lengthAdjust="spacingAndGlyphs" >100</text>
<text x="180.20" y="611.00" font-size="8.92" text-anchor="middle" textLength="18.67" lengthAdjust="spacingAndGlyphs" >1000</text>
<text x="228.80" y="611.00" font-size="8.92" text-anchor="middle" textLength="23.34" lengthAdjust="spacingAndGlyphs" >10000</text>
<text x="66.60" y="611.00" font-size="8.92" text-anchor="middle" textLength="4.67" lengthAdjust="spacingAndGlyphs" >0</text>
<text x="35.30" y="540.40" font-size="11.37" text-anchor="middle" textLength="109.00" lengthAdjust="spacingAndGlyphs" transform="rotate(-90 35.30 540.40)" >Viable cells (% control)</text>
<text x="111.90" y="627.30" font-size="11.37" textLength="74.60" lengthAdjust="spacingAndGlyphs" >ONX-0914 (nM)</text>
<line x1="108.39" y1="513.97" x2="108.39" y2="520.88" stroke="#a3002b" stroke-width="1.0" />
<line x1="105.79" y1="513.97" x2="110.99" y2="513.97" stroke="#a3002b" stroke-width="1.0" />
<line x1="105.79" y1="520.88" x2="110.99" y2="520.88" stroke="#a3002b" stroke-width="1.0" />
<line x1="131.60" y1="519.66" x2="131.60" y2="526.14" stroke="#a3002b" stroke-width="1.0" />
<line x1="129.00" y1="519.66" x2="134.20" y2="519.66" stroke="#a3002b" stroke-width="1.0" />
<line x1="129.00" y1="526.14" x2="134.20" y2="526.14" stroke="#a3002b" stroke-width="1.0" />
<line x1="154.79" y1="524.48" x2="154.79" y2="535.28" stroke="#a3002b" stroke-width="1.0" />
<line x1="152.19" y1="524.48" x2="157.39" y2="524.48" stroke="#a3002b" stroke-width="1.0" />
<line x1="152.19" y1="535.28" x2="157.39" y2="535.28" stroke="#a3002b" stroke-width="1.0" />
<line x1="177.98" y1="546.44" x2="177.98" y2="565.16" stroke="#a3002b" stroke-width="1.0" />
<line x1="175.38" y1="546.44" x2="180.58" y2="546.44" stroke="#a3002b" stroke-width="1.0" />
<line x1="175.38" y1="565.16" x2="180.58" y2="565.16" stroke="#a3002b" stroke-width="1.0" />
<polyline points="66.85,523.40 74.30,519.20" fill="none" stroke="#a3002b" stroke-width="1.6" stroke-linejoin="round"/>
<polyline points="80.80,517.90 85.20,517.93 108.39,517.42 131.60,522.90 154.79,529.88 177.98,555.80 201.16,590.00 224.35,594.32" fill="none" stroke="#a3002b" stroke-width="1.6" stroke-linejoin="round"/>
<circle cx="66.85" cy="523.40" r="2.70" fill="#a3002b"/>
<circle cx="85.20" cy="517.93" r="2.70" fill="#a3002b"/>
<circle cx="108.39" cy="517.42" r="2.70" fill="#a3002b"/>
<circle cx="131.60" cy="522.90" r="2.70" fill="#a3002b"/>
<circle cx="154.79" cy="529.88" r="2.70" fill="#a3002b"/>
<circle cx="177.98" cy="555.80" r="2.70" fill="#a3002b"/>
<circle cx="201.16" cy="590.00" r="2.70" fill="#a3002b"/>
<circle cx="224.35" cy="594.32" r="2.70" fill="#a3002b"/>
<line x1="66.85" y1="528.08" x2="66.85" y2="537.44" stroke="#2e4b7d" stroke-width="1.0" />
<line x1="64.25" y1="528.08" x2="69.45" y2="528.08" stroke="#2e4b7d" stroke-width="1.0" />
<line x1="64.25" y1="537.44" x2="69.45" y2="537.44" stroke="#2e4b7d" stroke-width="1.0" />
<line x1="108.39" y1="533.12" x2="108.39" y2="543.92" stroke="#2e4b7d" stroke-width="1.0" />
<line x1="105.79" y1="533.12" x2="110.99" y2="533.12" stroke="#2e4b7d" stroke-width="1.0" />
<line x1="105.79" y1="543.92" x2="110.99" y2="543.92" stroke="#2e4b7d" stroke-width="1.0" />
<line x1="131.60" y1="548.96" x2="131.60" y2="568.40" stroke="#2e4b7d" stroke-width="1.0" />
<line x1="129.00" y1="548.96" x2="134.20" y2="548.96" stroke="#2e4b7d" stroke-width="1.0" />
<line x1="129.00" y1="568.40" x2="134.20" y2="568.40" stroke="#2e4b7d" stroke-width="1.0" />
<line x1="154.79" y1="564.44" x2="154.79" y2="581.00" stroke="#2e4b7d" stroke-width="1.0" />
<line x1="152.19" y1="564.44" x2="157.39" y2="564.44" stroke="#2e4b7d" stroke-width="1.0" />
<line x1="152.19" y1="581.00" x2="157.39" y2="581.00" stroke="#2e4b7d" stroke-width="1.0" />
<polyline points="66.85,532.76 74.30,526.90" fill="none" stroke="#2e4b7d" stroke-width="1.6" stroke-linejoin="round"/>
<polyline points="80.80,524.60 85.20,524.84 108.39,538.52 131.60,558.68 154.79,572.72 177.98,590.00 201.16,593.60 224.35,594.32" fill="none" stroke="#2e4b7d" stroke-width="1.6" stroke-linejoin="round"/>
<rect x="64.15" y="530.06" width="5.40" height="5.40" fill="#2e4b7d"/>
<rect x="82.50" y="522.14" width="5.40" height="5.40" fill="#2e4b7d"/>
<rect x="105.69" y="535.82" width="5.40" height="5.40" fill="#2e4b7d"/>
<rect x="128.90" y="555.98" width="5.40" height="5.40" fill="#2e4b7d"/>
<rect x="152.09" y="570.02" width="5.40" height="5.40" fill="#2e4b7d"/>
<rect x="175.28" y="587.30" width="5.40" height="5.40" fill="#2e4b7d"/>
<rect x="198.46" y="590.90" width="5.40" height="5.40" fill="#2e4b7d"/>
<rect x="221.65" y="591.62" width="5.40" height="5.40" fill="#2e4b7d"/>
<line x1="77.00" y1="499.50" x2="90.00" y2="499.50" stroke="#a3002b" stroke-width="1.3" />
<circle cx="83.50" cy="499.50" r="2.50" fill="#a3002b"/>
<text x="93.75" y="502.50" font-size="8.92" textLength="16.70" lengthAdjust="spacingAndGlyphs" >ONX</text>
<line x1="125.75" y1="499.50" x2="138.75" y2="499.50" stroke="#2e4b7d" stroke-width="1.3" />
<rect x="129.80" y="497.00" width="5.00" height="5.00" fill="#2e4b7d"/>
<text x="143.00" y="502.50" font-size="8.92" textLength="33.20" lengthAdjust="spacingAndGlyphs" >+ LU-102</text>
<text x="8.75" y="670.00" font-size="14.21" textLength="9.66" lengthAdjust="spacingAndGlyphs" >D</text>
<text x="52.50" y="665.75" font-size="10.0" textLength="27.50" lengthAdjust="spacingAndGlyphs" >MM1.S</text>
<text x="115.50" y="650.00" font-size="8.92" textLength="53.20" lengthAdjust="spacingAndGlyphs" >ONX+LU-102</text>
<rect x="118.75" y="654.25" width="46.75" height="4.50" fill="#231f20"/>
<line x1="171.25" y1="656.50" x2="228.75" y2="656.50" stroke="#231f20" stroke-width="1.1" />
<text x="119.50" y="672.30" font-size="8.92" textLength="4.67" lengthAdjust="spacingAndGlyphs" >0</text>
<text x="148.75" y="672.30" font-size="8.92" textLength="10.80" lengthAdjust="spacingAndGlyphs" >4h</text>
<text x="211.25" y="672.30" font-size="8.92" textLength="15.50" lengthAdjust="spacingAndGlyphs" >48h</text>
<line x1="219.25" y1="675.00" x2="219.25" y2="680.50" stroke="#231f20" stroke-width="1.1" />
<polygon points="216.6,679.2 221.9,679.2 219.25,685.0" fill="#231f20"/>
<text x="203.00" y="700.00" font-size="8.92" textLength="32.70" lengthAdjust="spacingAndGlyphs" >Viability</text>
<line x1="66.50" y1="685.00" x2="66.50" y2="803.50" stroke="#231f20" stroke-width="1.3" />
<line x1="63.30" y1="802.90" x2="66.50" y2="802.90" stroke="#231f20" stroke-width="1.1" />
<text x="58.80" y="806.10" font-size="8.92" text-anchor="end" textLength="4.67" lengthAdjust="spacingAndGlyphs" >0</text>
<line x1="63.30" y1="764.43" x2="66.50" y2="764.43" stroke="#231f20" stroke-width="1.1" />
<text x="58.80" y="767.63" font-size="8.92" text-anchor="end" textLength="9.34" lengthAdjust="spacingAndGlyphs" >50</text>
<line x1="63.30" y1="725.97" x2="66.50" y2="725.97" stroke="#231f20" stroke-width="1.1" />
<text x="58.80" y="729.17" font-size="8.92" text-anchor="end" textLength="14.00" lengthAdjust="spacingAndGlyphs" >100</text>
<line x1="63.30" y1="687.50" x2="66.50" y2="687.50" stroke="#231f20" stroke-width="1.1" />
<text x="58.80" y="690.70" font-size="8.92" text-anchor="end" textLength="14.00" lengthAdjust="spacingAndGlyphs" >150</text>
<line x1="64.50" y1="783.67" x2="66.50" y2="783.67" stroke="#231f20" stroke-width="1.0" />
<line x1="64.50" y1="745.20" x2="66.50" y2="745.20" stroke="#231f20" stroke-width="1.0" />
<line x1="64.50" y1="706.73" x2="66.50" y2="706.73" stroke="#231f20" stroke-width="1.0" />
<line x1="63.00" y1="802.90" x2="75.00" y2="802.90" stroke="#231f20" stroke-width="1.3" />
<line x1="75.00" y1="801.30" x2="75.00" y2="805.80" stroke="#231f20" stroke-width="1.1" />
<line x1="66.50" y1="802.90" x2="66.50" y2="806.20" stroke="#231f20" stroke-width="1.1" />
<line x1="83.30" y1="801.30" x2="83.30" y2="805.80" stroke="#231f20" stroke-width="1.1" />
<line x1="83.30" y1="802.90" x2="242.50" y2="802.90" stroke="#231f20" stroke-width="1.3" />
<line x1="83.60" y1="802.90" x2="83.60" y2="806.10" stroke="#231f20" stroke-width="1.1" />
<line x1="99.10" y1="802.90" x2="99.10" y2="804.70" stroke="#231f20" stroke-width="0.9" />
<line x1="108.17" y1="802.90" x2="108.17" y2="804.70" stroke="#231f20" stroke-width="0.9" />
<line x1="114.61" y1="802.90" x2="114.61" y2="804.70" stroke="#231f20" stroke-width="0.9" />
<line x1="119.60" y1="802.90" x2="119.60" y2="804.70" stroke="#231f20" stroke-width="0.9" />
<line x1="123.67" y1="802.90" x2="123.67" y2="804.70" stroke="#231f20" stroke-width="0.9" />
<line x1="127.12" y1="802.90" x2="127.12" y2="804.70" stroke="#231f20" stroke-width="0.9" />
<line x1="130.11" y1="802.90" x2="130.11" y2="804.70" stroke="#231f20" stroke-width="0.9" />
<line x1="132.74" y1="802.90" x2="132.74" y2="804.70" stroke="#231f20" stroke-width="0.9" />
<line x1="135.10" y1="802.90" x2="135.10" y2="806.10" stroke="#231f20" stroke-width="1.1" />
<line x1="150.60" y1="802.90" x2="150.60" y2="804.70" stroke="#231f20" stroke-width="0.9" />
<line x1="159.67" y1="802.90" x2="159.67" y2="804.70" stroke="#231f20" stroke-width="0.9" />
<line x1="166.11" y1="802.90" x2="166.11" y2="804.70" stroke="#231f20" stroke-width="0.9" />
<line x1="171.10" y1="802.90" x2="171.10" y2="804.70" stroke="#231f20" stroke-width="0.9" />
<line x1="175.17" y1="802.90" x2="175.17" y2="804.70" stroke="#231f20" stroke-width="0.9" />
<line x1="178.62" y1="802.90" x2="178.62" y2="804.70" stroke="#231f20" stroke-width="0.9" />
<line x1="181.61" y1="802.90" x2="181.61" y2="804.70" stroke="#231f20" stroke-width="0.9" />
<line x1="184.24" y1="802.90" x2="184.24" y2="804.70" stroke="#231f20" stroke-width="0.9" />
<line x1="186.60" y1="802.90" x2="186.60" y2="806.10" stroke="#231f20" stroke-width="1.1" />
<line x1="202.10" y1="802.90" x2="202.10" y2="804.70" stroke="#231f20" stroke-width="0.9" />
<line x1="211.17" y1="802.90" x2="211.17" y2="804.70" stroke="#231f20" stroke-width="0.9" />
<line x1="217.61" y1="802.90" x2="217.61" y2="804.70" stroke="#231f20" stroke-width="0.9" />
<line x1="222.60" y1="802.90" x2="222.60" y2="804.70" stroke="#231f20" stroke-width="0.9" />
<line x1="226.67" y1="802.90" x2="226.67" y2="804.70" stroke="#231f20" stroke-width="0.9" />
<line x1="230.12" y1="802.90" x2="230.12" y2="804.70" stroke="#231f20" stroke-width="0.9" />
<line x1="233.11" y1="802.90" x2="233.11" y2="804.70" stroke="#231f20" stroke-width="0.9" />
<line x1="235.74" y1="802.90" x2="235.74" y2="804.70" stroke="#231f20" stroke-width="0.9" />
<line x1="238.10" y1="802.90" x2="238.10" y2="806.10" stroke="#231f20" stroke-width="1.1" />
<text x="83.60" y="817.70" font-size="8.92" text-anchor="middle" textLength="9.34" lengthAdjust="spacingAndGlyphs" >10</text>
<text x="135.10" y="817.70" font-size="8.92" text-anchor="middle" textLength="14.00" lengthAdjust="spacingAndGlyphs" >100</text>
<text x="186.60" y="817.70" font-size="8.92" text-anchor="middle" textLength="18.67" lengthAdjust="spacingAndGlyphs" >1000</text>
<text x="238.10" y="817.70" font-size="8.92" text-anchor="middle" textLength="23.34" lengthAdjust="spacingAndGlyphs" >10000</text>
<text x="66.50" y="817.70" font-size="8.92" text-anchor="middle" textLength="4.67" lengthAdjust="spacingAndGlyphs" >0</text>
<text x="34.30" y="743.80" font-size="11.37" text-anchor="middle" textLength="109.70" lengthAdjust="spacingAndGlyphs" transform="rotate(-90 34.30 743.80)" >Viable cells (% control)</text>
<text x="117.00" y="834.20" font-size="11.37" textLength="74.20" lengthAdjust="spacingAndGlyphs" >ONX-0914 (nM)</text>
<line x1="85.93" y1="725.97" x2="85.93" y2="735.97" stroke="#a3002b" stroke-width="1.0" />
<line x1="83.33" y1="725.97" x2="88.53" y2="725.97" stroke="#a3002b" stroke-width="1.0" />
<line x1="83.33" y1="735.97" x2="88.53" y2="735.97" stroke="#a3002b" stroke-width="1.0" />
<line x1="135.10" y1="721.74" x2="135.10" y2="727.12" stroke="#a3002b" stroke-width="1.0" />
<line x1="132.50" y1="721.74" x2="137.70" y2="721.74" stroke="#a3002b" stroke-width="1.0" />
<line x1="132.50" y1="727.12" x2="137.70" y2="727.12" stroke="#a3002b" stroke-width="1.0" />
<line x1="159.67" y1="759.43" x2="159.67" y2="789.44" stroke="#a3002b" stroke-width="1.0" />
<line x1="157.07" y1="759.43" x2="162.27" y2="759.43" stroke="#a3002b" stroke-width="1.0" />
<line x1="157.07" y1="789.44" x2="162.27" y2="789.44" stroke="#a3002b" stroke-width="1.0" />
<polyline points="66.50,725.97 74.70,725.00" fill="none" stroke="#a3002b" stroke-width="1.6" stroke-linejoin="round"/>
<polyline points="81.40,730.20 85.93,730.97 110.51,718.43 135.10,724.43 159.67,774.43 184.24,802.90" fill="none" stroke="#a3002b" stroke-width="1.6" stroke-linejoin="round"/>
<circle cx="66.50" cy="725.97" r="2.70" fill="#a3002b"/>
<circle cx="85.93" cy="730.97" r="2.70" fill="#a3002b"/>
<circle cx="110.51" cy="718.43" r="2.70" fill="#a3002b"/>
<circle cx="135.10" cy="724.43" r="2.70" fill="#a3002b"/>
<circle cx="159.67" cy="774.43" r="2.70" fill="#a3002b"/>
<circle cx="184.24" cy="802.90" r="2.70" fill="#a3002b"/>
<line x1="66.50" y1="729.43" x2="66.50" y2="737.89" stroke="#2e4b7d" stroke-width="1.0" />
<line x1="63.90" y1="729.43" x2="69.10" y2="729.43" stroke="#2e4b7d" stroke-width="1.0" />
<line x1="63.90" y1="737.89" x2="69.10" y2="737.89" stroke="#2e4b7d" stroke-width="1.0" />
<line x1="85.93" y1="732.51" x2="85.93" y2="757.12" stroke="#2e4b7d" stroke-width="1.0" />
<line x1="83.33" y1="732.51" x2="88.53" y2="732.51" stroke="#2e4b7d" stroke-width="1.0" />
<line x1="83.33" y1="757.12" x2="88.53" y2="757.12" stroke="#2e4b7d" stroke-width="1.0" />
<line x1="110.51" y1="746.74" x2="110.51" y2="777.51" stroke="#2e4b7d" stroke-width="1.0" />
<line x1="107.91" y1="746.74" x2="113.11" y2="746.74" stroke="#2e4b7d" stroke-width="1.0" />
<line x1="107.91" y1="777.51" x2="113.11" y2="777.51" stroke="#2e4b7d" stroke-width="1.0" />
<line x1="135.10" y1="764.43" x2="135.10" y2="790.59" stroke="#2e4b7d" stroke-width="1.0" />
<line x1="132.50" y1="764.43" x2="137.70" y2="764.43" stroke="#2e4b7d" stroke-width="1.0" />
<line x1="132.50" y1="790.59" x2="137.70" y2="790.59" stroke="#2e4b7d" stroke-width="1.0" />
<polyline points="66.50,733.66 74.70,736.30" fill="none" stroke="#2e4b7d" stroke-width="1.6" stroke-linejoin="round"/>
<polyline points="81.80,742.00 85.93,744.82 110.51,762.13 135.10,777.51 159.67,799.44 184.24,802.90 208.82,802.90" fill="none" stroke="#2e4b7d" stroke-width="1.6" stroke-linejoin="round"/>
<rect x="63.80" y="730.96" width="5.40" height="5.40" fill="#2e4b7d"/>
<rect x="83.23" y="742.12" width="5.40" height="5.40" fill="#2e4b7d"/>
<rect x="107.81" y="759.43" width="5.40" height="5.40" fill="#2e4b7d"/>
<rect x="132.40" y="774.81" width="5.40" height="5.40" fill="#2e4b7d"/>
<rect x="156.97" y="796.74" width="5.40" height="5.40" fill="#2e4b7d"/>
<rect x="181.54" y="800.20" width="5.40" height="5.40" fill="#2e4b7d"/>
<rect x="206.12" y="800.20" width="5.40" height="5.40" fill="#2e4b7d"/>
<line x1="159.50" y1="720.20" x2="173.70" y2="720.20" stroke="#a3002b" stroke-width="1.3" />
<circle cx="166.50" cy="720.20" r="2.50" fill="#a3002b"/>
<text x="177.30" y="723.20" font-size="8.92" textLength="38.80" lengthAdjust="spacingAndGlyphs" >ONX-0914</text>
<line x1="159.50" y1="732.30" x2="173.70" y2="732.30" stroke="#2e4b7d" stroke-width="1.3" />
<rect x="164.00" y="729.80" width="5.00" height="5.00" fill="#2e4b7d"/>
<text x="177.30" y="735.30" font-size="8.92" textLength="34.10" lengthAdjust="spacingAndGlyphs" >+ LU-102</text>
<text x="265.00" y="20.00" font-size="14.21" textLength="7.13" lengthAdjust="spacingAndGlyphs" >E</text>
<text x="322.30" y="21.30" font-size="11.27" textLength="9.00" lengthAdjust="spacingAndGlyphs" >IC</text>
<text x="331.30" y="23.30" font-size="8.43" textLength="8.70" lengthAdjust="spacingAndGlyphs" >50</text>
<text x="343.80" y="21.30" font-size="11.27" textLength="55.56" lengthAdjust="spacingAndGlyphs" >decrease by</text>
<text x="439.60" y="21.30" font-size="11.27" text-anchor="end" textLength="33.13" lengthAdjust="spacingAndGlyphs" >LU-102</text>
<line x1="307.50" y1="29.50" x2="307.50" y2="130.10" stroke="#231f20" stroke-width="1.3" />
<line x1="304.30" y1="129.50" x2="307.50" y2="129.50" stroke="#231f20" stroke-width="1.1" />
<text x="299.80" y="132.70" font-size="8.92" text-anchor="end" textLength="4.67" lengthAdjust="spacingAndGlyphs" >0</text>
<line x1="304.30" y1="96.75" x2="307.50" y2="96.75" stroke="#231f20" stroke-width="1.1" />
<text x="299.80" y="99.95" font-size="8.92" text-anchor="end" textLength="4.67" lengthAdjust="spacingAndGlyphs" >5</text>
<line x1="304.30" y1="64.00" x2="307.50" y2="64.00" stroke="#231f20" stroke-width="1.1" />
<text x="299.80" y="67.20" font-size="8.92" text-anchor="end" textLength="9.34" lengthAdjust="spacingAndGlyphs" >10</text>
<line x1="304.30" y1="31.25" x2="307.50" y2="31.25" stroke="#231f20" stroke-width="1.1" />
<text x="299.80" y="34.45" font-size="8.92" text-anchor="end" textLength="9.34" lengthAdjust="spacingAndGlyphs" >15</text>
<line x1="305.70" y1="122.95" x2="307.50" y2="122.95" stroke="#231f20" stroke-width="1.0" />
<line x1="305.70" y1="116.40" x2="307.50" y2="116.40" stroke="#231f20" stroke-width="1.0" />
<line x1="305.70" y1="109.85" x2="307.50" y2="109.85" stroke="#231f20" stroke-width="1.0" />
<line x1="305.70" y1="103.30" x2="307.50" y2="103.30" stroke="#231f20" stroke-width="1.0" />
<line x1="305.70" y1="90.20" x2="307.50" y2="90.20" stroke="#231f20" stroke-width="1.0" />
<line x1="305.70" y1="83.65" x2="307.50" y2="83.65" stroke="#231f20" stroke-width="1.0" />
<line x1="305.70" y1="77.10" x2="307.50" y2="77.10" stroke="#231f20" stroke-width="1.0" />
<line x1="305.70" y1="70.55" x2="307.50" y2="70.55" stroke="#231f20" stroke-width="1.0" />
<line x1="305.70" y1="57.45" x2="307.50" y2="57.45" stroke="#231f20" stroke-width="1.0" />
<line x1="305.70" y1="50.90" x2="307.50" y2="50.90" stroke="#231f20" stroke-width="1.0" />
<line x1="305.70" y1="44.35" x2="307.50" y2="44.35" stroke="#231f20" stroke-width="1.0" />
<line x1="305.70" y1="37.80" x2="307.50" y2="37.80" stroke="#231f20" stroke-width="1.0" />
<line x1="307.50" y1="129.50" x2="455.60" y2="129.50" stroke="#231f20" stroke-width="1.3" />
<text x="281.65" y="78.75" font-size="11.37" text-anchor="middle" textLength="67.50" lengthAdjust="spacingAndGlyphs" transform="rotate(-90 281.65 78.75)" >Fold-decrease</text>
<rect x="311.10" y="111.51" width="11.70" height="17.64" fill="#a3002b" stroke="#960024" stroke-width="0.7"/>
<line x1="316.95" y1="129.50" x2="316.95" y2="132.50" stroke="#231f20" stroke-width="1.1" />
<text x="319.95" y="141.30" font-size="9.11" text-anchor="end" textLength="29.69" lengthAdjust="spacingAndGlyphs" transform="rotate(-45 319.95 141.30)" >KMS-11</text>
<rect x="329.52" y="109.02" width="11.70" height="20.13" fill="#a3002b" stroke="#960024" stroke-width="0.7"/>
<line x1="335.37" y1="129.50" x2="335.37" y2="132.50" stroke="#231f20" stroke-width="1.1" />
<text x="338.37" y="141.30" font-size="9.11" text-anchor="end" textLength="14.09" lengthAdjust="spacingAndGlyphs" transform="rotate(-45 338.37 141.30)" >LRS</text>
<rect x="347.94" y="87.93" width="11.70" height="41.22" fill="#a3002b" stroke="#960024" stroke-width="0.7"/>
<line x1="353.79" y1="129.50" x2="353.79" y2="132.50" stroke="#231f20" stroke-width="1.1" />
<text x="356.79" y="141.30" font-size="9.11" text-anchor="end" textLength="41.92" lengthAdjust="spacingAndGlyphs" transform="rotate(-45 356.79 141.30)" >RPMI-8266</text>
<rect x="366.36" y="79.68" width="11.70" height="49.47" fill="#a3002b" stroke="#960024" stroke-width="0.7"/>
<line x1="372.21" y1="129.50" x2="372.21" y2="132.50" stroke="#231f20" stroke-width="1.1" />
<text x="375.21" y="141.30" font-size="9.11" text-anchor="end" textLength="26.44" lengthAdjust="spacingAndGlyphs" transform="rotate(-45 375.21 141.30)" >MM1.S</text>
<rect x="384.78" y="103.65" width="11.70" height="25.50" fill="#a3002b" stroke="#960024" stroke-width="0.7"/>
<line x1="390.63" y1="129.50" x2="390.63" y2="132.50" stroke="#231f20" stroke-width="1.1" />
<text x="393.63" y="141.30" font-size="9.11" text-anchor="end" textLength="26.86" lengthAdjust="spacingAndGlyphs" transform="rotate(-45 393.63 141.30)" >MM1.R</text>
<rect x="403.20" y="97.17" width="11.70" height="31.98" fill="#a3002b" stroke="#960024" stroke-width="0.7"/>
<line x1="409.05" y1="129.50" x2="409.05" y2="132.50" stroke="#231f20" stroke-width="1.1" />
<text x="412.05" y="141.30" font-size="9.11" text-anchor="end" textLength="20.54" lengthAdjust="spacingAndGlyphs" transform="rotate(-45 412.05 141.30)" >H929</text>
<rect x="421.62" y="106.27" width="11.70" height="22.88" fill="#a3002b" stroke="#960024" stroke-width="0.7"/>
<line x1="427.47" y1="129.50" x2="427.47" y2="132.50" stroke="#231f20" stroke-width="1.1" />
<text x="430.47" y="141.30" font-size="9.11" text-anchor="end" textLength="59.60" lengthAdjust="spacingAndGlyphs" transform="rotate(-45 430.47 141.30)" >KMS-11 + IFN-γ</text>
<rect x="440.04" y="58.13" width="11.70" height="71.02" fill="#a3002b" stroke="#960024" stroke-width="0.7"/>
<line x1="445.89" y1="129.50" x2="445.89" y2="132.50" stroke="#231f20" stroke-width="1.1" />
<text x="448.89" y="141.30" font-size="9.11" text-anchor="end" textLength="71.83" lengthAdjust="spacingAndGlyphs" transform="rotate(-45 448.89 141.30)" >RPMI-8226 + IFN-γ</text>
<text x="265.10" y="229.80" font-size="14.21" textLength="7.06" lengthAdjust="spacingAndGlyphs" >F</text>
<rect x="324.35" y="231.55" width="9.60" height="7.70" fill="#2e4b7d" stroke="#223c6e" stroke-width="0.7"/>
<text x="337.50" y="238.60" font-size="8.92" textLength="28.50" lengthAdjust="spacingAndGlyphs" >LU-102</text>
<rect x="386.15" y="231.05" width="9.50" height="7.30" fill="#a3002b" stroke="#960024" stroke-width="0.7"/>
<text x="399.80" y="238.00" font-size="8.92" textLength="38.50" lengthAdjust="spacingAndGlyphs" >ONX-0914</text>
<text x="399.80" y="248.00" font-size="8.92" textLength="33.10" lengthAdjust="spacingAndGlyphs" >(900 nM)</text>
<rect x="463.35" y="231.85" width="9.30" height="7.50" fill="#522662" stroke="#461a57" stroke-width="0.7"/>
<text x="477.00" y="238.80" font-size="8.92" textLength="17.60" lengthAdjust="spacingAndGlyphs" >Both</text>
<line x1="307.70" y1="250.50" x2="307.70" y2="353.00" stroke="#231f20" stroke-width="1.3" />
<line x1="304.50" y1="352.40" x2="307.70" y2="352.40" stroke="#231f20" stroke-width="1.1" />
<text x="300.00" y="355.60" font-size="8.92" text-anchor="end" textLength="4.67" lengthAdjust="spacingAndGlyphs" >0</text>
<line x1="304.50" y1="319.37" x2="307.70" y2="319.37" stroke="#231f20" stroke-width="1.1" />
<text x="300.00" y="322.57" font-size="8.92" text-anchor="end" textLength="9.34" lengthAdjust="spacingAndGlyphs" >50</text>
<line x1="304.50" y1="286.33" x2="307.70" y2="286.33" stroke="#231f20" stroke-width="1.1" />
<text x="300.00" y="289.53" font-size="8.92" text-anchor="end" textLength="14.00" lengthAdjust="spacingAndGlyphs" >100</text>
<line x1="304.50" y1="253.30" x2="307.70" y2="253.30" stroke="#231f20" stroke-width="1.1" />
<text x="300.00" y="256.50" font-size="8.92" text-anchor="end" textLength="14.00" lengthAdjust="spacingAndGlyphs" >150</text>
<line x1="305.70" y1="335.88" x2="307.70" y2="335.88" stroke="#231f20" stroke-width="1.0" />
<line x1="305.70" y1="302.85" x2="307.70" y2="302.85" stroke="#231f20" stroke-width="1.0" />
<line x1="305.70" y1="269.82" x2="307.70" y2="269.82" stroke="#231f20" stroke-width="1.0" />
<line x1="307.70" y1="352.40" x2="511.50" y2="352.40" stroke="#231f20" stroke-width="1.3" />
<text x="276.10" y="301.50" font-size="11.37" text-anchor="middle" textLength="110.30" lengthAdjust="spacingAndGlyphs" transform="rotate(-90 276.10 301.50)" >Viable cells (% control)</text>
<rect x="311.85" y="331.61" width="4.10" height="20.44" fill="#2e4b7d" stroke="#223c6e" stroke-width="0.7"/>
<line x1="313.90" y1="325.31" x2="313.90" y2="331.26" stroke="#231f20" stroke-width="1.0" />
<line x1="312.40" y1="325.31" x2="315.40" y2="325.31" stroke="#231f20" stroke-width="1.0" />
<rect x="318.65" y="349.25" width="4.10" height="2.80" fill="#a3002b" stroke="#960024" stroke-width="0.7"/>
<line x1="320.70" y1="345.79" x2="320.70" y2="348.90" stroke="#231f20" stroke-width="1.0" />
<line x1="319.20" y1="345.79" x2="322.20" y2="345.79" stroke="#231f20" stroke-width="1.0" />
<rect x="325.30" y="351.41" width="4.80" height="0.99" fill="#522662"/>
<line x1="320.50" y1="352.40" x2="320.50" y2="355.20" stroke="#231f20" stroke-width="1.0" />
<text x="323.50" y="364.40" font-size="9.11" text-anchor="end" textLength="20.54" lengthAdjust="spacingAndGlyphs" transform="rotate(-45 323.50 364.40)" >H929</text>
<rect x="337.15" y="284.30" width="4.10" height="67.75" fill="#2e4b7d" stroke="#223c6e" stroke-width="0.7"/>
<line x1="339.20" y1="279.07" x2="339.20" y2="283.95" stroke="#231f20" stroke-width="1.0" />
<line x1="337.70" y1="279.07" x2="340.70" y2="279.07" stroke="#231f20" stroke-width="1.0" />
<rect x="343.95" y="327.12" width="4.10" height="24.93" fill="#a3002b" stroke="#960024" stroke-width="0.7"/>
<line x1="346.00" y1="324.85" x2="346.00" y2="326.77" stroke="#231f20" stroke-width="1.0" />
<line x1="344.50" y1="324.85" x2="347.50" y2="324.85" stroke="#231f20" stroke-width="1.0" />
<rect x="350.95" y="348.79" width="4.10" height="3.26" fill="#522662" stroke="#461a57" stroke-width="0.7"/>
<line x1="345.80" y1="352.40" x2="345.80" y2="355.20" stroke="#231f20" stroke-width="1.0" />
<text x="348.80" y="364.40" font-size="9.11" text-anchor="end" textLength="26.86" lengthAdjust="spacingAndGlyphs" transform="rotate(-45 348.80 364.40)" >MM1.R</text>
<rect x="362.55" y="292.17" width="4.10" height="59.88" fill="#2e4b7d" stroke="#223c6e" stroke-width="0.7"/>
<line x1="364.60" y1="286.73" x2="364.60" y2="291.82" stroke="#231f20" stroke-width="1.0" />
<line x1="363.10" y1="286.73" x2="366.10" y2="286.73" stroke="#231f20" stroke-width="1.0" />
<rect x="369.35" y="316.41" width="4.10" height="35.64" fill="#a3002b" stroke="#960024" stroke-width="0.7"/>
<line x1="371.40" y1="306.81" x2="371.40" y2="316.06" stroke="#231f20" stroke-width="1.0" />
<line x1="369.90" y1="306.81" x2="372.90" y2="306.81" stroke="#231f20" stroke-width="1.0" />
<rect x="376.35" y="347.93" width="4.10" height="4.12" fill="#522662" stroke="#461a57" stroke-width="0.7"/>
<line x1="371.20" y1="352.40" x2="371.20" y2="355.20" stroke="#231f20" stroke-width="1.0" />
<text x="374.20" y="364.40" font-size="9.11" text-anchor="end" textLength="26.44" lengthAdjust="spacingAndGlyphs" transform="rotate(-45 374.20 364.40)" >MM1.S</text>
<rect x="388.55" y="284.90" width="4.10" height="67.15" fill="#2e4b7d" stroke="#223c6e" stroke-width="0.7"/>
<line x1="390.60" y1="283.03" x2="390.60" y2="284.55" stroke="#231f20" stroke-width="1.0" />
<line x1="389.10" y1="283.03" x2="392.10" y2="283.03" stroke="#231f20" stroke-width="1.0" />
<rect x="395.35" y="289.00" width="4.10" height="63.05" fill="#a3002b" stroke="#960024" stroke-width="0.7"/>
<line x1="397.40" y1="286.33" x2="397.40" y2="288.65" stroke="#231f20" stroke-width="1.0" />
<line x1="395.90" y1="286.33" x2="398.90" y2="286.33" stroke="#231f20" stroke-width="1.0" />
<rect x="402.35" y="314.89" width="4.10" height="37.16" fill="#522662" stroke="#461a57" stroke-width="0.7"/>
<line x1="397.20" y1="352.40" x2="397.20" y2="355.20" stroke="#231f20" stroke-width="1.0" />
<text x="400.20" y="364.40" font-size="9.11" text-anchor="end" textLength="29.69" lengthAdjust="spacingAndGlyphs" transform="rotate(-45 400.20 364.40)" >KMS-11</text>
<rect x="413.65" y="282.06" width="4.10" height="69.99" fill="#2e4b7d" stroke="#223c6e" stroke-width="0.7"/>
<line x1="415.70" y1="280.72" x2="415.70" y2="281.71" stroke="#231f20" stroke-width="1.0" />
<line x1="414.20" y1="280.72" x2="417.20" y2="280.72" stroke="#231f20" stroke-width="1.0" />
<rect x="420.45" y="286.15" width="4.10" height="65.90" fill="#a3002b" stroke="#960024" stroke-width="0.7"/>
<line x1="422.50" y1="285.01" x2="422.50" y2="285.80" stroke="#231f20" stroke-width="1.0" />
<line x1="421.00" y1="285.01" x2="424.00" y2="285.01" stroke="#231f20" stroke-width="1.0" />
<rect x="427.45" y="337.03" width="4.10" height="15.02" fill="#522662" stroke="#461a57" stroke-width="0.7"/>
<line x1="422.30" y1="352.40" x2="422.30" y2="355.20" stroke="#231f20" stroke-width="1.0" />
<text x="425.30" y="364.40" font-size="9.11" text-anchor="end" textLength="41.92" lengthAdjust="spacingAndGlyphs" transform="rotate(-45 425.30 364.40)" >RPMI-8266</text>
<rect x="439.35" y="284.04" width="4.10" height="68.01" fill="#2e4b7d" stroke="#223c6e" stroke-width="0.7"/>
<line x1="441.40" y1="281.31" x2="441.40" y2="283.69" stroke="#231f20" stroke-width="1.0" />
<line x1="439.90" y1="281.31" x2="442.90" y2="281.31" stroke="#231f20" stroke-width="1.0" />
<rect x="446.15" y="286.35" width="4.10" height="65.70" fill="#a3002b" stroke="#960024" stroke-width="0.7"/>
<line x1="448.20" y1="285.01" x2="448.20" y2="286.00" stroke="#231f20" stroke-width="1.0" />
<line x1="446.70" y1="285.01" x2="449.70" y2="285.01" stroke="#231f20" stroke-width="1.0" />
<rect x="453.15" y="312.58" width="4.10" height="39.47" fill="#522662" stroke="#461a57" stroke-width="0.7"/>
<line x1="448.00" y1="352.40" x2="448.00" y2="355.20" stroke="#231f20" stroke-width="1.0" />
<text x="451.00" y="364.40" font-size="9.11" text-anchor="end" textLength="14.09" lengthAdjust="spacingAndGlyphs" transform="rotate(-45 451.00 364.40)" >LRS</text>
<rect x="464.85" y="294.88" width="4.10" height="57.17" fill="#2e4b7d" stroke="#223c6e" stroke-width="0.7"/>
<line x1="466.90" y1="292.28" x2="466.90" y2="294.53" stroke="#231f20" stroke-width="1.0" />
<line x1="465.40" y1="292.28" x2="468.40" y2="292.28" stroke="#231f20" stroke-width="1.0" />
<rect x="471.65" y="342.18" width="4.10" height="9.87" fill="#a3002b" stroke="#960024" stroke-width="0.7"/>
<line x1="473.70" y1="339.19" x2="473.70" y2="341.83" stroke="#231f20" stroke-width="1.0" />
<line x1="472.20" y1="339.19" x2="475.20" y2="339.19" stroke="#231f20" stroke-width="1.0" />
<line x1="473.50" y1="352.40" x2="473.50" y2="355.20" stroke="#231f20" stroke-width="1.0" />
<text x="476.50" y="364.40" font-size="9.11" text-anchor="end" textLength="71.83" lengthAdjust="spacingAndGlyphs" transform="rotate(-45 476.50 364.40)" >RPMI-8226 + IFN-γ</text>
<rect x="490.55" y="290.65" width="4.10" height="61.40" fill="#2e4b7d" stroke="#223c6e" stroke-width="0.7"/>
<line x1="492.60" y1="287.65" x2="492.60" y2="290.30" stroke="#231f20" stroke-width="1.0" />
<line x1="491.10" y1="287.65" x2="494.10" y2="287.65" stroke="#231f20" stroke-width="1.0" />
<rect x="497.35" y="327.25" width="4.10" height="24.80" fill="#a3002b" stroke="#960024" stroke-width="0.7"/>
<line x1="499.40" y1="318.71" x2="499.40" y2="326.90" stroke="#231f20" stroke-width="1.0" />
<line x1="497.90" y1="318.71" x2="500.90" y2="318.71" stroke="#231f20" stroke-width="1.0" />
<rect x="504.35" y="348.13" width="4.10" height="3.92" fill="#522662" stroke="#461a57" stroke-width="0.7"/>
<line x1="499.20" y1="352.40" x2="499.20" y2="355.20" stroke="#231f20" stroke-width="1.0" />
<text x="502.20" y="364.40" font-size="9.11" text-anchor="end" textLength="59.60" lengthAdjust="spacingAndGlyphs" transform="rotate(-45 502.20 364.40)" >KMS-11 + IFN-γ</text>
<text x="321.50" y="330.80" font-size="8.62" textLength="11.20" lengthAdjust="spacingAndGlyphs" >.26</text>
<text x="345.80" y="318.80" font-size="8.62" textLength="11.20" lengthAdjust="spacingAndGlyphs" >.34</text>
<text x="374.30" y="299.00" font-size="8.62" textLength="11.20" lengthAdjust="spacingAndGlyphs" >.37</text>
<text x="399.70" y="278.00" font-size="8.62" textLength="11.20" lengthAdjust="spacingAndGlyphs" >.31</text>
<text x="420.80" y="278.00" font-size="8.62" textLength="11.20" lengthAdjust="spacingAndGlyphs" >.34</text>
<text x="450.00" y="278.00" font-size="8.62" textLength="11.20" lengthAdjust="spacingAndGlyphs" >.35</text>
<text x="265.00" y="451.25" font-size="14.21" textLength="9.37" lengthAdjust="spacingAndGlyphs" >G</text>
<line x1="307.60" y1="485.30" x2="307.60" y2="595.90" stroke="#231f20" stroke-width="1.3" />
<line x1="304.40" y1="595.30" x2="307.60" y2="595.30" stroke="#231f20" stroke-width="1.1" />
<text x="299.90" y="598.50" font-size="8.92" text-anchor="end" textLength="4.67" lengthAdjust="spacingAndGlyphs" >0</text>
<line x1="304.40" y1="560.07" x2="307.60" y2="560.07" stroke="#231f20" stroke-width="1.1" />
<text x="299.90" y="563.27" font-size="8.92" text-anchor="end" textLength="9.34" lengthAdjust="spacingAndGlyphs" >20</text>
<line x1="304.40" y1="524.83" x2="307.60" y2="524.83" stroke="#231f20" stroke-width="1.1" />
<text x="299.90" y="528.03" font-size="8.92" text-anchor="end" textLength="9.34" lengthAdjust="spacingAndGlyphs" >40</text>
<line x1="304.40" y1="489.60" x2="307.60" y2="489.60" stroke="#231f20" stroke-width="1.1" />
<text x="299.90" y="492.80" font-size="8.92" text-anchor="end" textLength="9.34" lengthAdjust="spacingAndGlyphs" >60</text>
<line x1="307.60" y1="595.30" x2="467.30" y2="595.30" stroke="#231f20" stroke-width="1.3" />
<text x="281.80" y="540.75" font-size="11.37" text-anchor="middle" textLength="99.00" lengthAdjust="spacingAndGlyphs" transform="rotate(-90 281.80 540.75)" >%CD138+ dead cells</text>
<rect x="316.85" y="593.18" width="10.70" height="1.77" fill="#8c87bb" stroke="#7f79b0" stroke-width="0.7"/>
<rect x="333.95" y="593.77" width="10.70" height="1.18" fill="#2e4b7d" stroke="#223c6e" stroke-width="0.7"/>
<rect x="351.05" y="582.09" width="10.70" height="12.86" fill="#a3002b" stroke="#960024" stroke-width="0.7"/>
<rect x="368.15" y="502.99" width="10.70" height="91.96" fill="#522662" stroke="#461a57" stroke-width="0.7"/>
<rect x="396.55" y="583.67" width="10.70" height="11.28" fill="#8c87bb" stroke="#7f79b0" stroke-width="0.7"/>
<rect x="413.65" y="584.90" width="10.70" height="10.05" fill="#2e4b7d" stroke="#223c6e" stroke-width="0.7"/>
<rect x="430.75" y="544.56" width="10.70" height="50.39" fill="#a3002b" stroke="#960024" stroke-width="0.7"/>
<rect x="447.85" y="514.97" width="10.70" height="79.98" fill="#522662" stroke="#461a57" stroke-width="0.7"/>
<line x1="347.50" y1="595.30" x2="347.50" y2="597.90" stroke="#231f20" stroke-width="1.0" />
<line x1="427.30" y1="595.30" x2="427.30" y2="597.90" stroke="#231f20" stroke-width="1.0" />
<text x="337.00" y="610.50" font-size="8.92" textLength="22.20" lengthAdjust="spacingAndGlyphs" >Pt. 27</text>
<text x="417.00" y="610.50" font-size="8.92" textLength="21.80" lengthAdjust="spacingAndGlyphs" >Pt. 34</text>
<rect x="313.75" y="480.05" width="10.10" height="7.60" fill="#8c87bb" stroke="#7f79b0" stroke-width="0.7"/>
<rect x="313.75" y="492.75" width="10.10" height="7.60" fill="#2e4b7d" stroke="#223c6e" stroke-width="0.7"/>
<text x="328.40" y="487.20" font-size="8.92" textLength="20.60" lengthAdjust="spacingAndGlyphs" >Mock</text>
<text x="328.40" y="499.90" font-size="8.92" textLength="26.30" lengthAdjust="spacingAndGlyphs" >LU-102</text>
<rect x="381.55" y="479.95" width="10.40" height="8.00" fill="#a3002b" stroke="#960024" stroke-width="0.7"/>
<rect x="381.55" y="492.75" width="10.40" height="7.60" fill="#522662" stroke="#461a57" stroke-width="0.7"/>
<text x="395.80" y="487.30" font-size="8.92" textLength="46.10" lengthAdjust="spacingAndGlyphs" >900nM ONX</text>
<text x="395.80" y="499.80" font-size="8.92" textLength="46.10" lengthAdjust="spacingAndGlyphs" >900nM ONX</text>
<text x="395.80" y="511.30" font-size="8.92" textLength="34.00" lengthAdjust="spacingAndGlyphs" >+ LU-102</text>
<text x="265.50" y="671.25" font-size="14.21" textLength="9.45" lengthAdjust="spacingAndGlyphs" >H</text>
<text x="368.90" y="676.90" font-size="11.27" textLength="51.40" lengthAdjust="spacingAndGlyphs" >RPMI-8226</text>
<rect x="381.45" y="692.15" width="11.00" height="8.30" fill="#522662" stroke="#461a57" stroke-width="0.7"/>
<rect x="381.45" y="705.35" width="11.00" height="8.60" fill="#a3002b" stroke="#960024" stroke-width="0.7"/>
<text x="397.40" y="699.30" font-size="8.92" textLength="12.10" lengthAdjust="spacingAndGlyphs" >1hr</text>
<text x="397.40" y="712.40" font-size="8.92" textLength="16.80" lengthAdjust="spacingAndGlyphs" >18hr</text>
<line x1="307.50" y1="684.50" x2="307.50" y2="803.25" stroke="#231f20" stroke-width="1.3" />
<line x1="304.30" y1="802.65" x2="307.50" y2="802.65" stroke="#231f20" stroke-width="1.1" />
<text x="299.80" y="805.85" font-size="8.92" text-anchor="end" textLength="4.67" lengthAdjust="spacingAndGlyphs" >0</text>
<line x1="304.30" y1="764.27" x2="307.50" y2="764.27" stroke="#231f20" stroke-width="1.1" />
<text x="299.80" y="767.47" font-size="8.92" text-anchor="end" textLength="9.34" lengthAdjust="spacingAndGlyphs" >50</text>
<line x1="304.30" y1="725.88" x2="307.50" y2="725.88" stroke="#231f20" stroke-width="1.1" />
<text x="299.80" y="729.08" font-size="8.92" text-anchor="end" textLength="14.00" lengthAdjust="spacingAndGlyphs" >100</text>
<line x1="304.30" y1="687.50" x2="307.50" y2="687.50" stroke="#231f20" stroke-width="1.1" />
<text x="299.80" y="690.70" font-size="8.92" text-anchor="end" textLength="14.00" lengthAdjust="spacingAndGlyphs" >150</text>
<line x1="305.50" y1="783.46" x2="307.50" y2="783.46" stroke="#231f20" stroke-width="1.0" />
<line x1="305.50" y1="745.08" x2="307.50" y2="745.08" stroke="#231f20" stroke-width="1.0" />
<line x1="305.50" y1="706.69" x2="307.50" y2="706.69" stroke="#231f20" stroke-width="1.0" />
<line x1="307.50" y1="802.65" x2="481.20" y2="802.65" stroke="#231f20" stroke-width="1.3" />
<text x="274.90" y="742.90" font-size="11.37" text-anchor="middle" textLength="139.00" lengthAdjust="spacingAndGlyphs" transform="rotate(-90 274.90 742.90)" >β5i + β5c activity (% control)</text>
<rect x="313.85" y="726.23" width="6.50" height="76.07" fill="#522662" stroke="#461a57" stroke-width="0.7"/>
<line x1="317.10" y1="718.97" x2="317.10" y2="725.88" stroke="#231f20" stroke-width="1.0" />
<line x1="315.50" y1="718.97" x2="318.70" y2="718.97" stroke="#231f20" stroke-width="1.0" />
<rect x="324.65" y="732.91" width="6.50" height="69.39" fill="#a3002b" stroke="#960024" stroke-width="0.7"/>
<line x1="327.90" y1="724.35" x2="327.90" y2="732.56" stroke="#231f20" stroke-width="1.0" />
<line x1="326.30" y1="724.35" x2="329.50" y2="724.35" stroke="#231f20" stroke-width="1.0" />
<line x1="322.50" y1="802.65" x2="322.50" y2="805.45" stroke="#231f20" stroke-width="1.0" />
<text x="327.50" y="815.65" font-size="9.11" text-anchor="end" textLength="21.28" lengthAdjust="spacingAndGlyphs" transform="rotate(-45 327.50 815.65)" >Mock</text>
<rect x="342.65" y="726.23" width="6.50" height="76.07" fill="#522662" stroke="#461a57" stroke-width="0.7"/>
<rect x="353.45" y="733.22" width="6.50" height="69.08" fill="#a3002b" stroke="#960024" stroke-width="0.7"/>
<line x1="356.70" y1="732.33" x2="356.70" y2="732.87" stroke="#231f20" stroke-width="1.0" />
<line x1="355.10" y1="732.33" x2="358.30" y2="732.33" stroke="#231f20" stroke-width="1.0" />
<line x1="351.30" y1="802.65" x2="351.30" y2="805.45" stroke="#231f20" stroke-width="1.0" />
<text x="356.30" y="815.65" font-size="9.11" text-anchor="end" textLength="10.49" lengthAdjust="spacingAndGlyphs" transform="rotate(-45 356.30 815.65)" >LU</text>
<rect x="371.55" y="799.32" width="6.50" height="2.98" fill="#522662" stroke="#461a57" stroke-width="0.7"/>
<line x1="374.80" y1="796.51" x2="374.80" y2="798.97" stroke="#231f20" stroke-width="1.0" />
<line x1="373.20" y1="796.51" x2="376.40" y2="796.51" stroke="#231f20" stroke-width="1.0" />
<rect x="382.35" y="764.08" width="6.50" height="38.22" fill="#a3002b" stroke="#960024" stroke-width="0.7"/>
<line x1="385.60" y1="758.43" x2="385.60" y2="763.73" stroke="#231f20" stroke-width="1.0" />
<line x1="384.00" y1="758.43" x2="387.20" y2="758.43" stroke="#231f20" stroke-width="1.0" />
<line x1="380.20" y1="802.65" x2="380.20" y2="805.45" stroke="#231f20" stroke-width="1.0" />
<text x="385.20" y="815.65" font-size="9.11" text-anchor="end" textLength="15.12" lengthAdjust="spacingAndGlyphs" transform="rotate(-45 385.20 815.65)" >CFZ</text>
<rect x="400.55" y="796.86" width="6.50" height="5.44" fill="#522662" stroke="#461a57" stroke-width="0.7"/>
<line x1="403.80" y1="791.52" x2="403.80" y2="796.51" stroke="#231f20" stroke-width="1.0" />
<line x1="402.20" y1="791.52" x2="405.40" y2="791.52" stroke="#231f20" stroke-width="1.0" />
<rect x="411.35" y="794.56" width="6.50" height="7.74" fill="#a3002b" stroke="#960024" stroke-width="0.7"/>
<line x1="414.60" y1="791.90" x2="414.60" y2="794.21" stroke="#231f20" stroke-width="1.0" />
<line x1="413.00" y1="791.90" x2="416.20" y2="791.90" stroke="#231f20" stroke-width="1.0" />
<line x1="409.20" y1="802.65" x2="409.20" y2="805.45" stroke="#231f20" stroke-width="1.0" />
<text x="414.20" y="815.65" font-size="9.11" text-anchor="end" textLength="35.17" lengthAdjust="spacingAndGlyphs" transform="rotate(-45 414.20 815.65)" >CFZ + LU</text>
<rect x="429.35" y="793.02" width="6.50" height="9.28" fill="#522662" stroke="#461a57" stroke-width="0.7"/>
<line x1="432.60" y1="790.75" x2="432.60" y2="792.67" stroke="#231f20" stroke-width="1.0" />
<line x1="431.00" y1="790.75" x2="434.20" y2="790.75" stroke="#231f20" stroke-width="1.0" />
<rect x="440.15" y="758.48" width="6.50" height="43.82" fill="#a3002b" stroke="#960024" stroke-width="0.7"/>
<line x1="443.40" y1="755.36" x2="443.40" y2="758.13" stroke="#231f20" stroke-width="1.0" />
<line x1="441.80" y1="755.36" x2="445.00" y2="755.36" stroke="#231f20" stroke-width="1.0" />
<line x1="438.00" y1="802.65" x2="438.00" y2="805.45" stroke="#231f20" stroke-width="1.0" />
<text x="443.00" y="815.65" font-size="9.11" text-anchor="end" textLength="17.98" lengthAdjust="spacingAndGlyphs" transform="rotate(-45 443.00 815.65)" >ONX</text>
<rect x="458.25" y="792.79" width="6.50" height="9.51" fill="#522662" stroke="#461a57" stroke-width="0.7"/>
<line x1="461.50" y1="789.60" x2="461.50" y2="792.44" stroke="#231f20" stroke-width="1.0" />
<line x1="459.90" y1="789.60" x2="463.10" y2="789.60" stroke="#231f20" stroke-width="1.0" />
<rect x="469.05" y="786.88" width="6.50" height="15.42" fill="#a3002b" stroke="#960024" stroke-width="0.7"/>
<line x1="472.30" y1="783.07" x2="472.30" y2="786.53" stroke="#231f20" stroke-width="1.0" />
<line x1="470.70" y1="783.07" x2="473.90" y2="783.07" stroke="#231f20" stroke-width="1.0" />
<line x1="466.90" y1="802.65" x2="466.90" y2="805.45" stroke="#231f20" stroke-width="1.0" />
<text x="471.90" y="815.65" font-size="9.11" text-anchor="end" textLength="38.03" lengthAdjust="spacingAndGlyphs" transform="rotate(-45 471.90 815.65)" >ONX + LU</text>
<rect x="0.00" y="0.00" width="520.00" height="1.80" fill="#686868"/>
<rect x="0.00" y="0.00" width="1.40" height="854.00" fill="#1c1c1c"/>
<rect x="518.30" y="1.80" width="1.70" height="854.00" fill="#2a2a2a"/>
<rect x="0.00" y="852.40" width="520.00" height="1.60" fill="#1c1c1c"/>
</svg>
</body></html>
